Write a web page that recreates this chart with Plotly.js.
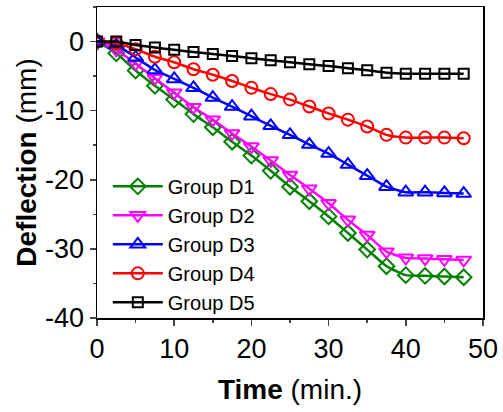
<!DOCTYPE html>
<html>
<head>
<meta charset="utf-8">
<script src="https://cdn.plot.ly/plotly-3.0.1.min.js"></script>
<style>html,body{margin:0;padding:0;background:#fff;}#chart{width:503px;height:412px;}</style>
</head>
<body>
<div id="chart"></div>
<script>
const time = [0, 2.5, 5, 7.5, 10, 12.5, 15, 17.5, 20, 22.5, 25, 27.5, 30, 32.5, 35, 37.5, 40, 42.5, 45, 47.5];
const groupD1 = [0, -1.7, -4.2, -6.4, -8.4, -10.5, -12.4, -14.5, -16.5, -18.7, -21.0, -23.1, -25.3, -27.7, -30.1, -32.5, -33.8, -33.9, -34.0, -34.1];
const groupD2 = [0, -1.2, -3.2, -5.3, -7.4, -9.5, -11.3, -13.3, -15.2, -17.2, -19.3, -21.3, -23.4, -25.8, -28.0, -30.4, -31.3, -31.4, -31.5, -31.6];
const groupD3 = [0, -0.5, -2.3, -4.1, -5.4, -6.7, -8.1, -9.4, -10.8, -12.2, -13.5, -14.9, -16.2, -17.8, -19.4, -21.0, -21.8, -21.8, -21.9, -22.0];
const groupD4 = [0, -0.25, -1.1, -2.2, -3.0, -4.0, -4.8, -5.7, -6.7, -7.6, -8.4, -9.4, -10.4, -11.3, -12.3, -13.5, -13.9, -13.9, -13.9, -14.0];
const groupD5 = [0, 0, -0.5, -0.85, -1.2, -1.5, -1.8, -2.1, -2.4, -2.7, -3.0, -3.3, -3.55, -3.85, -4.15, -4.5, -4.65, -4.65, -4.65, -4.65];
const names = ['Group D1', 'Group D2', 'Group D3', 'Group D4', 'Group D5'];
const xTickVals = [0, 10, 20, 30, 40, 50];
const yTickVals = [-40, -30, -20, -10, 0];
const yTickText = ['-40', '-30', '-20', '-10', '0'];

const series = [groupD1, groupD2, groupD3, groupD4, groupD5];
const colors = ['#008000', '#ff00ff', '#0000ff', '#ff0000', '#000000'];
const symbols = ['diamond-open', 'triangle-down-open', 'triangle-up-open', 'circle-open', 'square-open'];
const sizes = [12, 13, 13, 12, 10];

const traces = series.map((ys, i) => ({
  x: time, y: ys, name: names[i], type: 'scatter', mode: 'lines+markers',
  line: {color: colors[i], width: 2.5, shape: 'spline', smoothing: 0.5},
  marker: {symbol: symbols[i], size: sizes[i], color: colors[i], line: {color: colors[i], width: 2}}
}));

const font = 'Arial, "Liberation Sans", sans-serif';
const layout = {
  width: 503, height: 412,
  margin: {l: 97, r: 20, t: 7, b: 94},
  paper_bgcolor: '#fff', plot_bgcolor: '#fff',
  font: {family: font, color: '#000'},
  showlegend: true,
  legend: {x: 0.028, y: 0.486, xanchor: 'left', yanchor: 'top', bgcolor: 'rgba(0,0,0,0)',
           font: {size: 20, family: font}, tracegroupgap: 0, itemwidth: 50},
  xaxis: {
    range: [0, 50], tickvals: xTickVals, ticks: 'outside', ticklen: 6, tickwidth: 1.5,
    showline: true, linewidth: 1.5, linecolor: '#000', mirror: true, showgrid: false, zeroline: false,
    tickfont: {size: 27, family: font},
    minor: {dtick: 5, tick0: 0, ticks: 'outside', ticklen: 3, tickwidth: 1.5, showgrid: false},
    title: {text: '<b>Time</b> (min.)', font: {size: 28, family: font}, standoff: 16}
  },
  yaxis: {
    range: [-40, 5], tickvals: yTickVals, ticktext: yTickText, ticks: 'outside', ticklen: 6, tickwidth: 1.5,
    showline: true, linewidth: 1.5, linecolor: '#000', mirror: true, showgrid: false, zeroline: false,
    tickfont: {size: 27, family: font},
    minor: {dtick: 5, tick0: 0, ticks: 'outside', ticklen: 3, tickwidth: 1.5, showgrid: false},
    title: {text: '<b>Deflection</b> (mm)', font: {size: 28, family: font}, standoff: 0}
  }
};
Plotly.newPlot('chart', traces, layout, {displayModeBar: false, staticPlot: true});
</script>
</body>
</html>
